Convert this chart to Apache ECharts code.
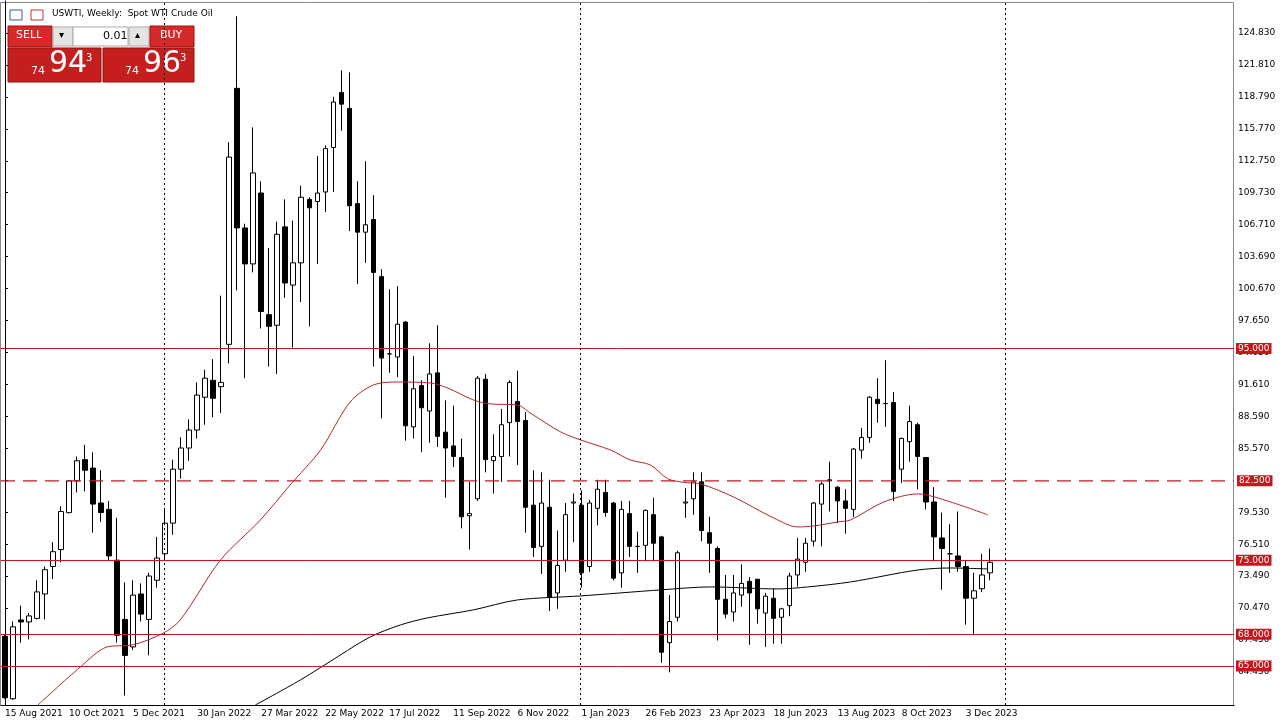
<!DOCTYPE html>
<html>
<head>
<meta charset="utf-8">
<script src="https://cdn.jsdelivr.net/npm/echarts@6/dist/echarts.min.js"></script>
<style>
  html, body { margin: 0; padding: 0; background: #fff; }
  #chart { width: 1284px; height: 728px; }
</style>
</head>
<body>
<div id="chart"></div>
<script>
// weekly candles, [open, close, low, high], first one is week of 15 Aug 2021
const candles = [
  [67.8, 62.0, 61.9, 68.0], [61.9, 68.7, 61.8, 69.2], [69.35, 69.16, 67.2, 70.7], [69.16, 69.73, 67.5, 70.0],
  [69.5, 72.0, 69.4, 73.1], [71.8, 74.1, 69.4, 74.4], [74.4, 75.8, 73.2, 76.7], [76.0, 79.6, 74.8, 80.1],
  [79.5, 82.5, 79.4, 82.5], [82.5, 84.4, 81.4, 84.8], [84.5, 83.5, 81.5, 85.9], [83.7, 80.3, 77.6, 85.2],
  [80.4, 79.5, 78.6, 83.5], [79.8, 75.4, 75.0, 80.6], [75.0, 67.9, 67.2, 79.0], [69.4, 66.0, 62.2, 72.9],
  [66.8, 71.7, 66.5, 73.1], [71.8, 69.9, 69.2, 72.8], [69.4, 73.5, 66.0, 73.8], [73.1, 75.2, 72.4, 77.2],
  [75.6, 78.5, 75.0, 79.9], [78.5, 83.6, 77.4, 84.5], [83.6, 85.6, 82.7, 86.6], [85.6, 87.3, 84.4, 88.3],
  [87.3, 90.6, 86.5, 91.8], [90.4, 92.2, 87.8, 93.0], [92.0, 90.3, 88.5, 94.0], [91.4, 91.8, 88.9, 100.0],
  [95.4, 113.1, 93.6, 114.5], [119.6, 106.4, 100.5, 126.4], [106.4, 103.0, 92.2, 106.8], [103.0, 111.6, 102.2, 115.9],
  [109.7, 98.5, 96.9, 110.8], [98.2, 97.1, 93.3, 104.5], [97.2, 105.8, 92.6, 107.0], [106.5, 101.2, 99.8, 109.1],
  [101.0, 103.1, 95.1, 107.1], [103.1, 109.3, 99.4, 110.4], [109.1, 108.3, 97.1, 109.3], [108.9, 109.7, 103.0, 113.2],
  [109.8, 113.9, 107.9, 114.2], [114.0, 118.3, 109.8, 118.8], [119.2, 118.1, 115.6, 121.3], [117.7, 108.5, 106.1, 121.1],
  [108.7, 106.0, 101.1, 110.8], [106.0, 106.7, 103.1, 112.7], [107.2, 102.2, 93.3, 109.5], [101.8, 94.1, 88.4, 102.5],
  [94.5, 94.5, 92.7, 100.6], [94.2, 97.3, 92.3, 100.9], [97.5, 87.7, 86.3, 97.6], [87.6, 91.2, 86.5, 94.3],
  [91.5, 89.4, 85.2, 92.0], [89.1, 92.6, 86.1, 95.5], [92.7, 86.7, 85.7, 97.2], [87.1, 85.6, 80.9, 90.1],
  [85.8, 84.8, 83.8, 89.6], [84.7, 79.1, 78.0, 86.5], [79.2, 79.4, 76.0, 82.4], [80.8, 92.2, 80.6, 92.4],
  [92.1, 84.5, 83.3, 92.6], [84.4, 84.8, 81.3, 86.9], [84.8, 87.8, 82.4, 89.3], [88.0, 91.8, 84.8, 92.0],
  [90.0, 88.1, 84.0, 92.9], [88.2, 80.0, 77.6, 89.0], [80.2, 76.2, 75.3, 83.5], [76.3, 80.4, 73.7, 83.3],
  [80.0, 71.5, 70.2, 82.6], [71.9, 74.5, 70.4, 77.8], [75.0, 79.3, 73.9, 80.4], [80.4, 80.5, 76.7, 81.3],
  [80.2, 73.8, 72.4, 81.6], [74.4, 80.4, 73.9, 80.7], [79.9, 81.7, 78.3, 82.6], [81.4, 79.5, 79.1, 82.6],
  [80.4, 73.3, 73.1, 80.5], [73.8, 79.8, 72.4, 80.6], [79.4, 76.3, 75.3, 80.6], [76.3, 76.3, 73.8, 77.7],
  [76.4, 79.7, 74.9, 79.8], [79.3, 76.6, 74.9, 80.9], [77.2, 66.3, 65.3, 77.3], [67.2, 69.2, 64.4, 71.7],
  [69.6, 75.7, 69.2, 75.9], [80.4, 80.5, 79.0, 81.8], [80.8, 82.4, 79.3, 83.3], [82.4, 77.8, 76.8, 83.3],
  [77.6, 76.6, 73.8, 79.1], [76.1, 71.3, 67.4, 76.3], [71.3, 69.9, 69.5, 73.6], [70.1, 71.9, 69.2, 73.6],
  [71.7, 72.8, 70.6, 74.6], [73.0, 71.9, 67.0, 73.4], [73.2, 70.4, 69.0, 73.2], [70.0, 71.6, 66.8, 71.9],
  [71.4, 69.5, 67.1, 72.3], [69.6, 70.4, 67.1, 70.5], [70.7, 73.5, 69.7, 73.8], [73.6, 75.1, 72.5, 77.1],
  [74.8, 76.6, 73.9, 77.1], [76.8, 80.4, 76.3, 80.5], [80.3, 82.2, 76.3, 82.4], [82.5, 82.6, 79.6, 84.3],
  [81.9, 80.6, 78.5, 82.0], [80.6, 79.9, 77.5, 81.7], [79.8, 85.5, 79.1, 85.6], [85.4, 86.6, 84.6, 87.5],
  [86.6, 90.4, 86.1, 90.5], [90.2, 89.8, 88.0, 92.2], [89.8, 89.8, 87.6, 93.9], [89.9, 81.5, 80.6, 90.9],
  [83.6, 86.5, 82.3, 86.6], [86.2, 88.1, 84.3, 89.6], [87.8, 84.8, 81.7, 88.0], [84.7, 80.5, 79.8, 84.7],
  [80.5, 77.2, 74.9, 81.9], [77.1, 76.1, 72.2, 79.5], [75.6, 75.6, 73.8, 78.4], [75.4, 74.4, 73.9, 79.6],
  [74.4, 71.4, 68.9, 74.9], [71.4, 72.1, 67.9, 73.8], [72.3, 73.6, 72.0, 75.6], [73.8, 74.8, 73.1, 76.1]
];
// empty weeks kept on the right (chart shift)
const emptyWeeks = 30;

// moving averages: [week index, price]
const maRed = [
  [4.1, 61.3], [9.4, 64.9], [12.75, 66.8], [16, 67.0], [19.75, 68.1], [21.9, 69.35], [26.9, 75.0],
  [31.9, 78.8], [35.6, 82.1], [39.4, 85.4], [43.1, 89.95], [46, 91.56], [49, 91.84], [53.1, 91.75],
  [55.25, 91.28], [58.5, 90.14], [60.6, 89.77], [64, 89.67], [65.6, 88.91], [69.4, 87.12], [71.9, 86.36],
  [75.6, 85.42], [78.1, 84.47], [80.6, 84.0], [82.75, 82.7], [84.75, 82.35], [86.9, 82.2], [91, 80.97],
  [96, 78.99], [99, 78.14], [101, 78.23], [104, 78.61], [105.6, 78.8], [109.75, 80.5], [114, 81.26],
  [118.1, 80.5], [122.75, 79.28]
];
const maBlack = [
  [31.25, 61.3], [36.9, 63.68], [41.9, 66.04], [45.6, 67.74], [49.4, 68.88], [52.75, 69.54], [58.5, 70.3],
  [64, 71.24], [71.9, 71.62], [81.9, 72.19], [88.1, 72.47], [96.5, 72.28], [100.25, 72.47], [105.6, 72.94],
  [114, 74.07], [118.1, 74.26], [122.75, 74.17]
];

const levelsSolid = [95, 75, 68, 65];
const levelDashed = 82.5;
const separators = [19.9, 71.9, 124.9];

const priceTicks = [64.43, 67.45, 70.47, 73.49, 76.51, 79.53, 82.55, 85.57, 88.59, 91.61, 94.63,
  97.65, 100.67, 103.69, 106.71, 109.73, 112.75, 115.77, 118.79, 121.81, 124.83];
const dateLabels = ['15 Aug 2021', '10 Oct 2021', '5 Dec 2021', '30 Jan 2022', '27 Mar 2022', '22 May 2022',
  '17 Jul 2022', '11 Sep 2022', '6 Nov 2022', '1 Jan 2023', '26 Feb 2023', '23 Apr 2023', '18 Jun 2023',
  '13 Aug 2023', '8 Oct 2023', '3 Dec 2023'];

const total = candles.length + emptyWeeks;
const cats = Array.from({ length: total }, (_, i) => String(i));
const RED = '#c8161d';
const FONT = 'DejaVu Sans';

const levelLabel = {
  position: 'end', distance: 2, color: '#fff', backgroundColor: RED, padding: [1, 2],
  fontSize: 9, fontFamily: FONT, formatter: p => p.value.toFixed(3)
};

const chart = echarts.init(document.getElementById('chart'));
chart.setOption({
  animation: false,
  backgroundColor: '#fff',
  grid: { left: 1, right: 50, top: 1, bottom: 23 },
  xAxis: [
    {
      type: 'category', data: cats, boundaryGap: true,
      axisLine: { lineStyle: { color: '#000' } },
      axisTick: { interval: (i) => i % 8 === 0 && i / 8 < dateLabels.length, length: 3, lineStyle: { color: '#000' } },
      axisLabel: {
        interval: (i) => i % 8 === 0 && i / 8 < dateLabels.length,
        formatter: (v, i) => dateLabels[i / 8] || '',
        align: 'left', margin: 4, fontSize: 9, fontFamily: FONT, color: '#000'
      },
      splitLine: { show: false }
    },
    { type: 'value', min: -0.5, max: total - 0.5, show: false, gridIndex: 0 }
  ],
  yAxis: {
    type: 'value', position: 'right', min: 61.31, max: 127.85, scale: true,
    axisLine: { show: true, lineStyle: { color: '#000' } },
    axisTick: { show: true, customValues: priceTicks, length: 3, lineStyle: { color: '#000' } },
    axisLabel: { customValues: priceTicks, formatter: v => v.toFixed(3), fontSize: 9, fontFamily: FONT, color: '#000', margin: 4 },
    splitLine: { show: false }
  },
  series: [
    {
      type: 'candlestick', data: candles, barWidth: 5,
      itemStyle: { color: '#fff', color0: '#000', borderColor: '#000', borderColor0: '#000', borderWidth: 1 },
      markLine: {
        symbol: 'none', silent: true, animation: false,
        lineStyle: { color: RED, width: 1, type: 'solid' },
        label: levelLabel,
        data: levelsSolid.map(v => ({ yAxis: v }))
      }
    },
    {
      type: 'line', xAxisIndex: 1, data: maRed, smooth: 0.3, symbol: 'none',
      lineStyle: { color: '#b0282a', width: 1 },
      markLine: {
        symbol: 'none', silent: true, label: { show: false },
        lineStyle: { color: '#000', type: [2, 3], width: 1 },
        data: separators.map(v => ({ xAxis: v }))
      }
    },
    {
      type: 'line', xAxisIndex: 1, data: maBlack, smooth: 0.3, symbol: 'none',
      lineStyle: { color: '#000', width: 1 }
    },
    {
      type: 'line', xAxisIndex: 1, symbol: 'none', silent: true,
      data: [[-0.5, levelDashed], [total - 0.5, levelDashed]],
      lineStyle: { color: RED, width: 1.2, type: [14, 8] },
      endLabel: { show: true, ...levelLabel, distance: 3, formatter: levelDashed.toFixed(3) }
    }
  ],
  graphic: [
    { type: 'rect', shape: { x: 0.5, y: 2.5, width: 1233, height: 703 }, style: { fill: 'none', stroke: '#888', lineWidth: 1 }, silent: true },
    { type: 'rect', shape: { x: 10, y: 10, width: 12, height: 10 }, style: { fill: '#fff', stroke: '#3a5a9a' } },
    { type: 'rect', shape: { x: 31, y: 10, width: 12, height: 10 }, style: { fill: '#fff', stroke: '#c03030' } },
    { type: 'text', left: 52, top: 9, style: { text: 'USWTI, Weekly:  Spot WTI Crude Oil', font: '9px ' + FONT, fill: '#000' } },
    // trade panel
    { type: 'rect', shape: { x: 8, y: 26, width: 44, height: 21 }, style: { fill: '#d42a2a', stroke: '#a01010' } },
    { type: 'text', left: 16, top: 30, style: { text: 'SELL', font: '11px ' + FONT, fill: '#fff' } },
    { type: 'rect', shape: { x: 53, y: 27, width: 20, height: 19 }, style: { fill: '#e4e4e4', stroke: '#aaa' } },
    { type: 'rect', shape: { x: 73, y: 27, width: 55, height: 19 }, style: { fill: '#fff', stroke: '#aaa' } },
    { type: 'rect', shape: { x: 129, y: 27, width: 20, height: 19 }, style: { fill: '#e4e4e4', stroke: '#aaa' } },
    { type: 'text', left: 59, top: 30, style: { text: '▾', font: '10px ' + FONT, fill: '#000' } },
    { type: 'text', left: 135, top: 30, style: { text: '▴', font: '10px ' + FONT, fill: '#000' } },
    { type: 'text', left: 103, top: 31, style: { text: '0.01', font: '11px ' + FONT, fill: '#000' } },
    { type: 'rect', shape: { x: 150, y: 26, width: 44, height: 21 }, style: { fill: '#d42a2a', stroke: '#a01010' } },
    { type: 'text', left: 160, top: 30, style: { text: 'BUY', font: '11px ' + FONT, fill: '#fff' } },
    { type: 'rect', shape: { x: 8, y: 48, width: 93, height: 34 }, style: { fill: '#c41e1e', stroke: '#901010' } },
    { type: 'rect', shape: { x: 103, y: 48, width: 91, height: 34 }, style: { fill: '#c41e1e', stroke: '#901010' } },
    { type: 'text', left: 31, top: 66, style: { text: '74', font: '11px ' + FONT, fill: '#fff' } },
    { type: 'text', left: 49, top: 49, style: { text: '94', font: '30px ' + FONT, fill: '#fff' } },
    { type: 'text', left: 86, top: 53, style: { text: '3', font: '10px ' + FONT, fill: '#fff' } },
    { type: 'text', left: 125, top: 66, style: { text: '74', font: '11px ' + FONT, fill: '#fff' } },
    { type: 'text', left: 143, top: 49, style: { text: '96', font: '30px ' + FONT, fill: '#fff' } },
    { type: 'text', left: 180, top: 53, style: { text: '3', font: '10px ' + FONT, fill: '#fff' } }
  ]
});
</script>
</body>
</html>
